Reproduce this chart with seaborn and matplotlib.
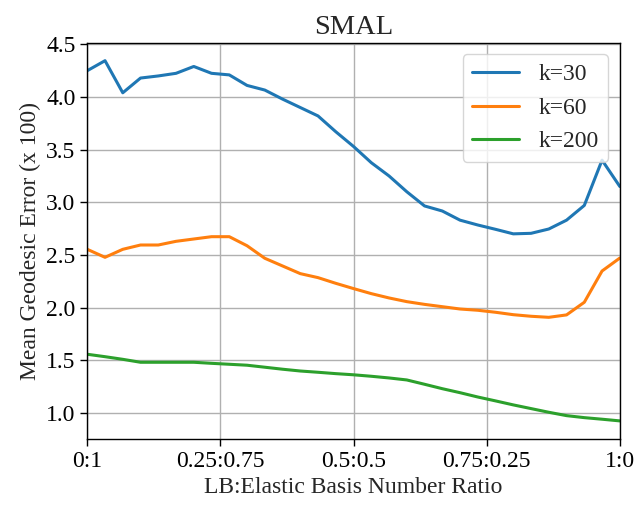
import numpy as np
import pandas as pd
import matplotlib
matplotlib.use("Agg")
import matplotlib.pyplot as plt
import seaborn as sns

ratio = [i / 30 for i in range(31)]
k30 = [4.25, 4.345, 4.04, 4.18, 4.20, 4.225, 4.29, 4.225, 4.21, 4.11, 4.066,
       3.98, 3.90, 3.82, 3.67, 3.53, 3.376, 3.25, 3.10, 2.965, 2.917, 2.83,
       2.784, 2.743, 2.70, 2.705, 2.746, 2.83, 2.97, 3.40, 3.15]
k60 = [2.553, 2.477, 2.553, 2.594, 2.594, 2.629, 2.651, 2.673, 2.673, 2.587, 2.468,
       2.395, 2.322, 2.284, 2.23, 2.18, 2.132, 2.091, 2.056, 2.03, 2.008, 1.986,
       1.974, 1.955, 1.932, 1.917, 1.907, 1.93, 2.05, 2.347, 2.47]
k200 = [1.556, 1.533, 1.508, 1.48, 1.48, 1.48, 1.48, 1.47, 1.461, 1.452, 1.433,
        1.414, 1.397, 1.385, 1.372, 1.361, 1.347, 1.331, 1.312, 1.271, 1.229, 1.191,
        1.15, 1.113, 1.075, 1.04, 1.005, 0.973, 0.954, 0.939, 0.923]
series_names = ["k=30", "k=60", "k=200"]
xtick_vals = [0, 0.25, 0.5, 0.75, 1.0]
xtick_labels = ["0:1", "0.25:0.75", "0.5:0.5", "0.75:0.25", "1:0"]
ytick_vals = [1.0, 1.5, 2.0, 2.5, 3.0, 3.5, 4.0, 4.5]

df = pd.concat([
    pd.DataFrame({"ratio": ratio, "err": vals, "k": name})
    for name, vals in zip(series_names, [k30, k60, k200])
])

sns.set_style("ticks")
plt.rcParams["font.family"] = ["Liberation Serif", "DejaVu Serif"]

fig, ax = plt.subplots(figsize=(6.37, 5.08), dpi=100)
fig.subplots_adjust(left=0.137, right=0.973, top=0.916, bottom=0.136)

sns.lineplot(data=df, x="ratio", y="err", hue="k", hue_order=series_names,
             palette=["#1f77b4", "#ff7f0e", "#2ca02c"], linewidth=2.2, ax=ax)

ax.set_xlim(0, 1)
ax.set_xticks(xtick_vals)
ax.set_xticklabels(xtick_labels)
ax.set_yticks(ytick_vals)
ax.set_yticklabels([f"{v:.1f}" for v in ytick_vals])
ax.grid(True, color="#b0b0b0", linewidth=1.0)
for s in ax.spines.values():
    s.set_color("black")
    s.set_linewidth(1.0)
ax.tick_params(labelsize=17, direction="out", length=5, width=1, colors="black")
ax.set_xlabel("LB:Elastic Basis Number Ratio", fontsize=17)
ax.set_ylabel("Mean Geodesic Error (x 100)", fontsize=17)
ax.set_title("SMAL", fontsize=20.5)
leg = ax.legend(loc="upper right", fontsize=17, framealpha=0.8, edgecolor="#cccccc")

fig.savefig("out.png", dpi=100)
